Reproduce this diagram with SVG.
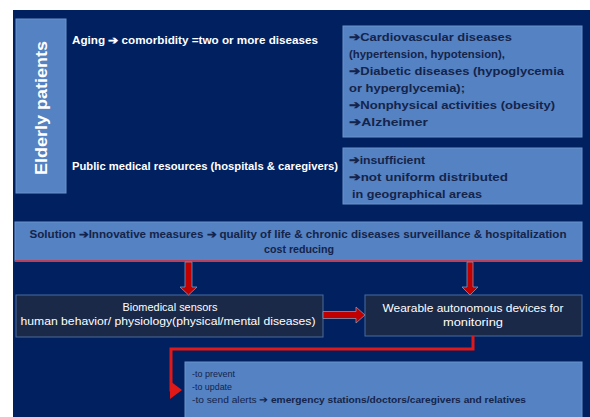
<svg xmlns="http://www.w3.org/2000/svg" width="590" height="417" viewBox="0 0 590 417">
<defs>
<style>
.bg{fill:#002060}
.lb{fill:#5482c2;stroke:#6a93cc;stroke-width:1}
.db{fill:#1a2947;stroke:#4a6a9c;stroke-width:1}
.wt{font-family:"Liberation Sans",Arial,sans-serif;fill:#ffffff}
.dt{font-family:"Liberation Sans",Arial,sans-serif;fill:#14244a}
.b{font-weight:bold}
.arr{fill:#c00000;stroke:#8595b5;stroke-width:0.8}
.conn{fill:none;stroke:#e01818;stroke-width:3}
</style>
<marker id="ah" markerWidth="6" markerHeight="6" refX="3" refY="3" orient="auto" markerUnits="strokeWidth">
<path d="M0,0 L4,3 L0,6 z" fill="#e01818"/>
</marker>
</defs>
<rect x="0" y="0" width="590" height="417" fill="#ffffff"/>
<rect class="bg" x="13" y="10" width="577" height="407"/>

<g id="elderly">
<rect class="lb" x="16" y="19" width="50" height="174"/>
<text class="wt b" font-size="17" text-anchor="middle" transform="translate(47,108) rotate(-90)" textLength="134" lengthAdjust="spacingAndGlyphs">Elderly patients</text>
</g>

<g id="aging">
<text class="wt b" x="72" y="44" font-size="10.5" textLength="246" lengthAdjust="spacingAndGlyphs">Aging ➔ comorbidity =two or more diseases</text>
</g>

<g id="public">
<text class="wt b" x="72" y="170" font-size="10.5" textLength="266" lengthAdjust="spacingAndGlyphs">Public medical resources (hospitals &amp; caregivers)</text>
</g>

<g id="diseases">
<rect class="lb" x="343" y="26" width="239" height="111"/>
<g class="dt b" font-size="11.5">
<text x="349" y="41" textLength="163" lengthAdjust="spacingAndGlyphs">➔Cardiovascular diseases</text>
<text x="349" y="58" textLength="156" lengthAdjust="spacingAndGlyphs">(hypertension, hypotension),</text>
<text x="349" y="75" textLength="215" lengthAdjust="spacingAndGlyphs">➔Diabetic diseases (hypoglycemia</text>
<text x="349" y="92" textLength="116" lengthAdjust="spacingAndGlyphs">or hyperglycemia);</text>
<text x="349" y="109" textLength="206" lengthAdjust="spacingAndGlyphs">➔Nonphysical activities (obesity)</text>
<text x="349" y="126" textLength="79" lengthAdjust="spacingAndGlyphs">➔Alzheimer</text>
</g>
</g>

<g id="resources">
<rect class="lb" x="343" y="148" width="239" height="56"/>
<g class="dt b" font-size="11.5">
<text x="349" y="164" textLength="76" lengthAdjust="spacingAndGlyphs">➔insufficient</text>
<text x="349" y="181" textLength="159" lengthAdjust="spacingAndGlyphs">➔not uniform distributed</text>
<text x="352" y="198" textLength="130" lengthAdjust="spacingAndGlyphs">in geographical areas</text>
</g>
</g>

<g id="solution">
<rect class="lb" x="15" y="222" width="567" height="39"/>
<line x1="15" y1="261" x2="582" y2="261" stroke="#b8405a" stroke-width="2"/>
<g class="dt b" font-size="11" text-anchor="middle">
<text x="298" y="238" textLength="537" lengthAdjust="spacingAndGlyphs">Solution ➔Innovative measures ➔ quality of life &amp; chronic diseases surveillance &amp; hospitalization</text>
<text x="299" y="253" textLength="70" lengthAdjust="spacingAndGlyphs">cost reducing</text>
</g>
</g>

<g id="sensors">
<rect class="db" x="16" y="295" width="307" height="42"/>
<g class="wt" font-size="10.5" text-anchor="middle">
<text x="170" y="311" textLength="95" lengthAdjust="spacingAndGlyphs">Biomedical sensors</text>
<text x="168" y="325" textLength="295" lengthAdjust="spacingAndGlyphs">human behavior/ physiology(physical/mental diseases)</text>
</g>
</g>

<g id="wearable">
<rect class="db" x="365" y="295" width="217" height="41"/>
<g class="wt" font-size="10.5" text-anchor="middle">
<text x="473" y="312" textLength="181" lengthAdjust="spacingAndGlyphs">Wearable autonomous devices for</text>
<text x="473" y="326" textLength="60" lengthAdjust="spacingAndGlyphs">monitoring</text>
</g>
</g>

<g id="actions">
<rect class="lb" x="185" y="362" width="397" height="60"/>
<g class="dt" font-size="9.5">
<text x="192" y="377" textLength="43" lengthAdjust="spacingAndGlyphs">-to prevent</text>
<text x="192" y="390" textLength="40" lengthAdjust="spacingAndGlyphs">-to update</text>
<text x="192" y="403" textLength="334" lengthAdjust="spacingAndGlyphs">-to send alerts ➔ <tspan class="b">emergency stations/doctors/caregivers  and relatives</tspan></text>
</g>
</g>

<g id="connectors">
<polygon class="arr" points="185,262 192,262 192,287 197,287 188.5,295 180,287 185,287"/>
<polygon class="arr" points="467,262 473,262 473,287 478,287 470,295 462,287 467,287"/>
<polygon class="arr" points="323,311.5 356,311.5 356,307 365,315 356,323 356,318.5 323,318.5"/>
<polyline class="conn" points="473,336 473,349 171,349 171,390 179,390" marker-end="url(#ah)"/>
</g>
</svg>
